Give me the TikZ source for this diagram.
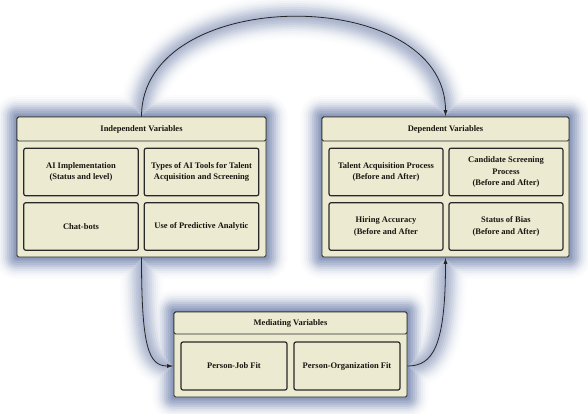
\documentclass[tikz,border=0pt]{standalone}
\usepackage{fontspec}
\setmainfont{Liberation Serif}
\usetikzlibrary{arrows.meta,calc}
\pgfdeclarelayer{background}
\pgfsetlayers{background,main}
\definecolor{boxfill}{RGB}{236,235,210}
\definecolor{boxline}{RGB}{40,40,40}
\definecolor{glowbase}{RGB}{140,154,187}
\definecolor{txt}{RGB}{25,20,15}
\tikzset{
  outerbox/.style={draw=boxline, line width=0.9pt, fill=boxfill, rounded corners=1.5pt, inner sep=0pt},
  titlebox/.style={draw=boxline, line width=0.9pt, fill=boxfill, rounded corners=1.5pt, inner sep=0pt,
    font=\fontsize{8.5}{11.5}\selectfont\bfseries, text=txt},
  itembox/.style={draw=boxline, line width=1.2pt, fill=boxfill, rounded corners=2pt, inner sep=1pt,
    align=center, font=\fontsize{8.5}{11.5}\selectfont\bfseries, text=txt},
  conn/.style={draw=black!85, line width=0.8pt, -{Latex[length=6.5pt,width=4pt]}},
}
\begin{document}
\begin{tikzpicture}[x=1pt,y=1pt]
\useasboundingbox (0,0) rectangle (588,413);
% Independent
\node[outerbox, minimum width=249, minimum height=140] (indep) at (141.5,226) {};
\node[titlebox, minimum width=249, minimum height=24] (indepT) at (141.5,284) {Independent Variables};
\node[itembox, minimum width=114.5, minimum height=47.5] (i1) at (81,241) {AI Implementation\\(Status and level)};
\node[itembox, minimum width=114.5, minimum height=47.5] (i2) at (201.5,241) {Types of AI Tools for Talent\\Acquisition and Screening};
\node[itembox, minimum width=114.5, minimum height=47.5] (i3) at (81,186.5) {Chat-bots};
\node[itembox, minimum width=114.5, minimum height=47.5] (i4) at (201.5,186.5) {Use of Predictive Analytic};
% Dependent
\node[outerbox, minimum width=247, minimum height=140] (dep) at (445.5,226) {};
\node[titlebox, minimum width=247, minimum height=24] (depT) at (445.5,284) {Dependent Variables};
\node[itembox, minimum width=114, minimum height=47.5] (d1) at (386,241) {Talent Acquisition Process\\(Before and After)};
\node[itembox, minimum width=114, minimum height=47.5] (d2) at (506,241) {Candidate Screening\\Process\\(Before and After)};
\node[itembox, minimum width=114, minimum height=47.5] (d3) at (386,186.5) {Hiring Accuracy\\(Before and After};
\node[itembox, minimum width=114, minimum height=47.5] (d4) at (506,186.5) {Status of Bias\\(Before and After)};
% Mediating
\node[outerbox, minimum width=233, minimum height=85] (med) at (290.5,58.5) {};
\node[titlebox, minimum width=233, minimum height=22] (medT) at (290.5,90) {Mediating Variables};
\node[itembox, minimum width=106, minimum height=48] (m1) at (234,47) {Person-Job Fit};
\node[itembox, minimum width=106, minimum height=48] (m2) at (347,47) {Person-Organization Fit};
\coordinate (medin) at (med.west |- m1.west);
\coordinate (medout) at (med.east |- m2.east);
% connectors
\draw[conn] (indepT.north) to[out=90,in=90,looseness=1.12] (depT.north);
\draw[conn] (indep.south) .. controls +(0,-90) and +(-25,0) .. (medin);
\draw[conn] (medout) .. controls +(25,0) and +(0,-90) .. (dep.south);
% glow
\begin{pgfonlayer}{background}
\foreach \r/\p/\q in {22/3/2,20/6/4,18/11/8,16/18/13,14/28/20,12/40/28,10/53/38,8/66/47,6/78/56,4/88/63,2.5/95/68,1.2/100/72}{
  \begin{scope}[line width=2*\r pt, line join=round, line cap=round]
    \draw[draw=glowbase!\q!white] (indepT.north) to[out=90,in=90,looseness=1.12] (depT.north);
    \draw[draw=glowbase!\q!white] (indep.south) .. controls +(0,-90) and +(-25,0) .. (medin);
    \draw[draw=glowbase!\q!white] (medout) .. controls +(25,0) and +(0,-90) .. (dep.south);
    \filldraw[draw=glowbase!\p!white, fill=glowbase!\p!white] (indepT.north west) rectangle (indep.south east);
    \filldraw[draw=glowbase!\p!white, fill=glowbase!\p!white] (depT.north west) rectangle (dep.south east);
    \filldraw[draw=glowbase!\p!white, fill=glowbase!\p!white] (medT.north west) rectangle (med.south east);
  \end{scope}
}
\end{pgfonlayer}
\end{tikzpicture}
\end{document}
